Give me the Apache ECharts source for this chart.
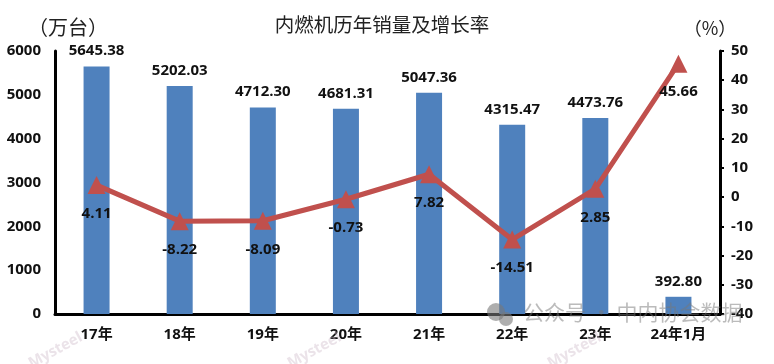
<!DOCTYPE html>
<html><head><meta charset="utf-8">
<style>html,body{margin:0;padding:0;background:#fff}#c{width:774px;height:364px}</style>
<script src="https://cdn.jsdelivr.net/npm/echarts@6/dist/echarts.min.js"></script>
</head><body><div id="c"></div>
<script>
const categories = ['17年','18年','19年','20年','21年','22年','23年','24年1月'];
const salesValues = [5645.38,5202.03,4712.30,4681.31,5047.36,4315.47,4473.76,392.80];
const growthValues = [4.11,-8.22,-8.09,-0.73,7.82,-14.51,2.85,45.66];
const titleText = '内燃机历年销量及增长率';
const leftUnit = '（万台）';
const rightUnit = '（%）';
const watermarkText = '公众号 · 中内协会数据';
const stampText = 'Mysteel';

const labelFont = '"Open Sans","Noto Sans","Noto Sans CJK SC",sans-serif';
const cjkFont = '"Noto Sans CJK SC",sans-serif';
const axisLabelStyle = {color:'#111',fontFamily:labelFont,fontWeight:'bold',fontSize:15};
const stamp = (x) => ({type:'text',x:x,y:358,rotation:0.5,silent:true,z:90,
  style:{text:stampText,fill:'rgba(205,185,200,0.4)',fontFamily:labelFont,fontWeight:'bold',fontSize:15}});
const chart = echarts.init(document.getElementById('c'),null,{renderer:'canvas'});
chart.setOption({
  animation:false,
  backgroundColor:'#fff',
  title:{text:titleText,left:377,top:10,textAlign:'center',
    textStyle:{fontFamily:cjkFont,fontWeight:'normal',fontSize:19.5,color:'#222'}},
  grid:{left:55,right:54,top:51,bottom:50,containLabel:false},
  xAxis:{type:'category',data:categories,
    axisLine:{lineStyle:{color:'#000',width:3}},axisTick:{show:false},
    axisLabel:Object.assign({},axisLabelStyle,{margin:13,fontFamily:'"Open Sans","Noto Sans CJK SC",sans-serif'})},
  yAxis:[
    {type:'value',min:0,max:6000,interval:1000,name:leftUnit,nameGap:14,
      nameTextStyle:{fontFamily:cjkFont,fontSize:20,color:'#222',padding:[0,0,0,26]},
      splitLine:{show:false},axisLine:{show:true,lineStyle:{color:'#000',width:3}},axisTick:{show:false},
      axisLabel:Object.assign({},axisLabelStyle,{margin:14,formatter:v=>String(v)})},
    {type:'value',min:-40,max:50,interval:10,name:rightUnit,position:'right',nameGap:14,
      nameTextStyle:{fontFamily:cjkFont,fontSize:18,color:'#222',padding:[0,20,0,0]},
      splitLine:{show:false},axisLine:{show:true,lineStyle:{color:'#000',width:3}},
      axisTick:{show:true,length:4,lineStyle:{color:'#000',width:2}},
      axisLabel:Object.assign({},axisLabelStyle,{margin:11})}
  ],
  series:[
    {type:'bar',data:salesValues,yAxisIndex:0,barWidth:26,
      itemStyle:{color:'#4f81bd'},
      label:{show:true,position:'top',distance:8,formatter:p=>p.value.toFixed(2),
        color:'#111',fontFamily:labelFont,fontWeight:'bold',fontSize:15}},
    {type:'line',data:growthValues,yAxisIndex:1,symbol:'triangle',symbolSize:18,
      lineStyle:{color:'#c0504d',width:5},itemStyle:{color:'#c0504d'},
      label:{show:true,position:'bottom',distance:12,formatter:p=>p.value.toFixed(2),
        color:'#111',fontFamily:labelFont,fontWeight:'bold',fontSize:15}}
  ],
  graphic:[
    stamp(26),stamp(285),stamp(545),
    {type:'text',left:523,top:302,silent:true,z:100,
      style:{text:watermarkText,fill:'rgba(120,120,120,0.5)',fontFamily:cjkFont,fontSize:21}},
    {type:'circle',shape:{cx:496,cy:312,r:9},silent:true,z:100,style:{fill:'rgba(120,120,120,0.6)'}},
    {type:'circle',shape:{cx:506,cy:319,r:7},silent:true,z:100,style:{fill:'rgba(120,120,120,0.6)'}}
  ]
});
</script></body></html>
